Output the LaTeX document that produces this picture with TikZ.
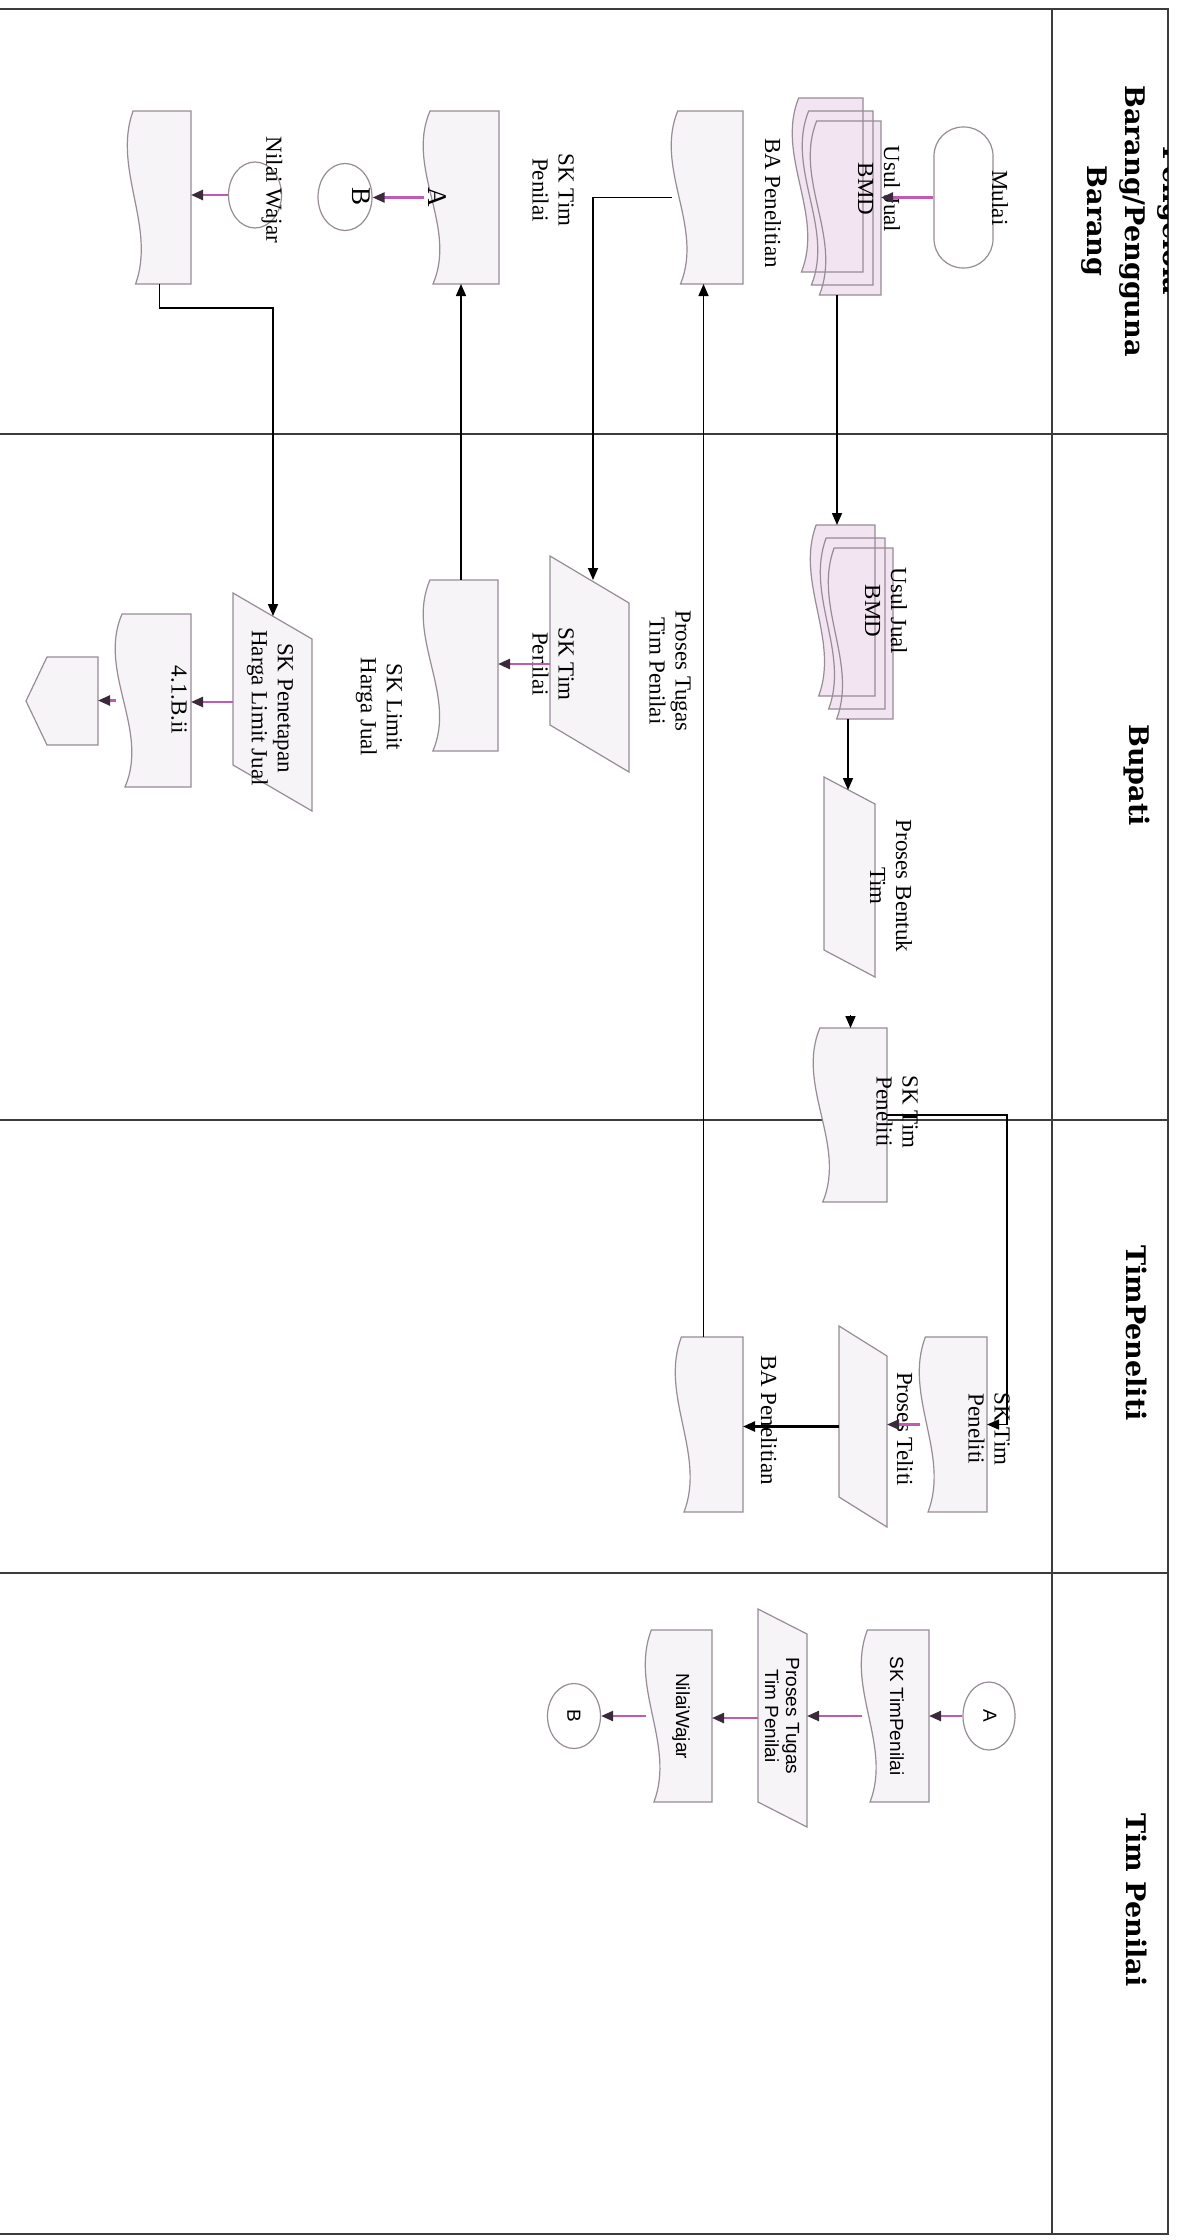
\documentclass[tikz,border=0pt]{standalone}
\usepackage{fontspec}
\setmainfont{Liberation Serif}
\newfontfamily\hdrfont{DejaVu Serif}
\newfontfamily\sansf{Liberation Sans}
\usetikzlibrary{arrows.meta,shapes.geometric,calc}

\definecolor{laneline}{HTML}{3C3C3C}
\definecolor{outl}{HTML}{978C97}
\definecolor{docfill}{HTML}{F7F4F7}
\definecolor{mdfill}{HTML}{F3E4F1}
\definecolor{magline}{HTML}{C05AB2}
\definecolor{arrdark}{HTML}{3A2A3A}

\tikzset{
  lane/.style={draw=laneline, line width=2pt},
  shapeline/.style={draw=outl, line width=1.2pt},
  docstyle/.style={shapeline, fill=docfill},
  parastyle/.style={shapeline, fill=docfill},
  shapebox/.style={draw=none, rectangle, inner sep=0pt, outer sep=0pt},
  lbl/.style={rotate=-90, align=center, inner sep=0pt, text=black, font=\fontsize{23}{26}\selectfont},
  lblbig/.style={rotate=-90, align=center, inner sep=0pt, text=black, font=\fontsize{27}{30}\selectfont},
  lbls/.style={rotate=-90, align=center, inner sep=0pt, text=black, font=\sansf\fontsize{19}{21}\selectfont},
  hdr/.style={rotate=-90, align=center, inner sep=0pt, text=black, font=\hdrfont\bfseries\fontsize{27}{38}\selectfont},
  conn/.style={draw=black, line width=1.6pt, -{Triangle[length=12pt,width=10pt]}},
  connm/.style={draw=magline, line width=2.4pt, -{Triangle[length=12pt,width=10pt,color=arrdark]}},
}

\newcommand{\docpathdraw}[5]{%
  \path[#1] ({#2+0.08*(#3-#2)},{#4}) -- ({#3},{#4}) -- ({#3},{#5}) -- ({#2+0.12*(#3-#2)},{#5})
    .. controls ({#2+0.45*(#3-#2)},{#5-(#5-#4)/3}) and ({#2-0.25*(#3-#2)},{#4+(#5-#4)/3}) .. ({#2+0.08*(#3-#2)},{#4}) -- cycle;}

\newcommand{\docshape}[5]{%
  \docpathdraw{docstyle}{#2}{#3}{#4}{#5}
  \node[shapebox, minimum width={(#3-#2)*1pt}, minimum height={(#5-#4)*1pt}] (#1) at ({(#2+#3)/2},{(#4+#5)/2}) {};}

\newcommand{\parashape}[6]{%
  \path[parastyle] ({#2},{#4}) -- ({#3},{#4+#6}) -- ({#3},{#5+#6}) -- ({#2},{#5}) -- cycle;
  \node[shapebox, minimum width={(#3-#2)*1pt}, minimum height={(#5+#6-#4)*1pt}] (#1) at ({(#2+#3)/2},{(#4+#5+#6)/2}) {};}

\begin{document}
\begin{tikzpicture}[x=1pt,y=-1pt]
\useasboundingbox[fill=white] (0,0) rectangle (1177,2240);

% ---------- swimlane frame ----------
\draw[lane] (0,9) -- (1168,9) -- (1168,2234) -- (0,2234);
\draw[lane] (1052,9) -- (1052,2234);
\draw[lane] (0,434) -- (1168,434);
\draw[lane] (0,1120) -- (1168,1120);
\draw[lane] (0,1573) -- (1168,1573);

\begin{scope}
  \clip (1052,9) rectangle (1167,434);
  \node[hdr] (hP) at (1133,221) {Pengelola\\Barang/Pengguna\\Barang};
\end{scope}
\node[hdr] (hB) at (1137,775) {Bupati};
\node[hdr] (hT) at (1137,1333) {TimPeneliti};
\node[hdr] (hN) at (1137,1900) {Tim Penilai};

% ---------- Pengelola lane shapes ----------
\node[rectangle, rounded corners=29pt, shapeline, fill=white, minimum width=59pt, minimum height=141pt, inner sep=0pt] (mulai) at (963.5,197.5) {};

\docpathdraw{fill=mdfill}{811}{881}{121}{295}
\docpathdraw{fill=mdfill}{803}{873}{111}{285}
\docpathdraw{fill=mdfill}{793}{863}{98}{272}
\docpathdraw{shapeline}{811}{881}{121}{295}
\docpathdraw{shapeline}{803}{873}{111}{285}
\docpathdraw{shapeline}{793}{863}{98}{272}
\node[shapebox, minimum width=88pt, minimum height=197pt] (mdP) at (837,196.5) {};

\docshape{baP}{672}{743}{111}{284}
\docshape{skP}{424}{499}{111}{284}
\docshape{nwP}{128}{191}{111}{284}
\node[ellipse, shapeline, minimum width=54pt, minimum height=67pt, inner sep=0pt] (cirAP) at (345,197) {};
\node[ellipse, shapeline, minimum width=53pt, minimum height=66pt, inner sep=0pt] (cirBP) at (255,195) {};

% ---------- Bupati lane shapes ----------
\docpathdraw{fill=mdfill}{829}{893}{548}{719}
\docpathdraw{fill=mdfill}{821}{885}{538}{709}
\docpathdraw{fill=mdfill}{811}{875}{525}{696}
\docpathdraw{shapeline}{829}{893}{548}{719}
\docpathdraw{shapeline}{821}{885}{538}{709}
\docpathdraw{shapeline}{811}{875}{525}{696}
\node[shapebox, minimum width=82pt, minimum height=194pt] (mdB) at (852,622) {};

\parashape{pbt}{824}{875}{777}{950}{27}
\docshape{skB}{814}{887}{1028}{1202}
\parashape{ptt}{550}{629}{556}{725}{47}
\docshape{slB}{424}{498}{580}{751}
\parashape{spp}{233}{312}{593}{765}{46}
\docshape{dfour}{116}{191}{614}{787}
\path[docstyle] (98,657) -- (98,745) -- (47,745) -- (26,701) -- (47,657) -- cycle;
\node[shapebox, minimum width=72pt, minimum height=88pt] (pent) at (62,701) {};

% ---------- TimPeneliti lane shapes ----------
\docshape{skT}{920}{987}{1337}{1512}
\parashape{prT}{839}{887}{1326}{1497}{30}
\docshape{baT}{676}{743}{1337}{1512}

% ---------- Tim Penilai lane shapes ----------
\node[ellipse, shapeline, fill=white, minimum width=52pt, minimum height=68pt, inner sep=0pt] (cA) at (989,1716) {};
\docshape{skN}{862}{929}{1630}{1802}
\parashape{ptN}{758}{807}{1609}{1802}{25}
\docshape{nwN}{646}{712}{1630}{1802}
\node[ellipse, shapeline, fill=white, minimum width=53pt, minimum height=65pt, inner sep=0pt] (cB) at (574,1716) {};

% ---------- labels ----------
\node[lbl] (tMulai) at (1000,198) {Mulai};
\node[lbl] (tUsulP) at (879,189) {Usul Jual\\BMD};
\node[lbl] (tBaP) at (773,203) {BA Penelitian};
\node[lbl] (tSkP) at (553,190) {SK Tim\\Penilai};
\node[lblbig] (tA) at (437,197) {A};
\node[lblbig] (tB) at (361,197) {B};
\node[lbl] (tNw) at (272,190) {Nilai Wajar};

\node[lbl] (tUsulB) at (886,611) {Usul Jual\\BMD};
\node[lbl] (tPbt) at (891,886) {Proses Bentuk\\Tim};
\node[lbl] (tSkB) at (897,1112) {SK Tim\\Peneliti};
\node[lbl] (tPtt) at (670,671) {Proses Tugas\\Tim Penilai};
\node[lbl] (tSkTP) at (553,664) {SK Tim\\Penilai};
\node[lbl] (tSl) at (379,707) {SK Limit\\Harga Jual};
\node[lbl] (tSp) at (270,708) {SK Penetapan\\Harga Limit Jual};
\node[lbl] (t41) at (179,700) {4.1.B.ii};

\node[lbl] (tSkT) at (989,1429) {SK Tim\\Peneliti};
\node[lbl] (tPt) at (905,1429) {Proses Teliti};
\node[lbl] (tBaT) at (769,1420) {BA Penelitian};

\node[lbls] (tAN) at (990,1716) {A};
\node[lbls] (tSkN) at (897,1716) {SK TimPenilai};
\node[lbls] (tPtN) at (782,1716) {Proses Tugas\\Tim Penilai};
\node[lbls] (tNwN) at (681,1716) {NilaiWajar};
\node[lbls] (tBN) at (574,1716) {B};

% ---------- connectors ----------
\coordinate (pbtTop) at (848,790);
\coordinate (pttTop) at (593,580);
\coordinate (sppTop) at (273,616);
\coordinate (baTup) at ($(baT.north)+(-6,0)$);

\draw[connm] (mulai.west) -- (mulai.west -| mdP.east);
\draw[conn] (mdP.south) -- (mdP.south |- mdB.north);
\draw[conn] (pbtTop |- mdB.south) -- (pbtTop);
\draw[conn] ($(skB.north)+(0,-13)$) -- (skB.north);
\draw[conn] (skB.east) -- ++(120,0) |- (skT.east);
\draw[connm] (skT.west) -- (skT.west -| prT.east);
\draw[conn, line width=2.4pt] (prT.west) -- (prT.west -| baT.east);
\draw[conn] (baTup) -- (baTup |- baP.south);
\draw[conn] (baP.west) -| (pttTop);
\draw[connm] (ptt.west) -- (ptt.west -| slB.east);
\draw[conn] (slB.north) -- (slB.north |- skP.south);
\draw[connm] (skP.west) -- (skP.west -| cirAP.east);
\draw[connm] (cirBP.west) -- (cirBP.west -| nwP.east);
\draw[conn] (nwP.south) -- ++(0,24) -| (sppTop);
\draw[connm] (spp.west) -- (spp.west -| dfour.east);
\draw[connm] (dfour.west) -- (dfour.west -| pent.east);

\draw[connm] (cA.west) -- (cA.west -| skN.east);
\draw[connm] (skN.west) -- (skN.west -| ptN.east);
\draw[connm] (ptN.west) -- (ptN.west -| nwN.east);
\draw[connm] (nwN.west) -- (nwN.west -| cB.east);
\end{tikzpicture}
\end{document}
